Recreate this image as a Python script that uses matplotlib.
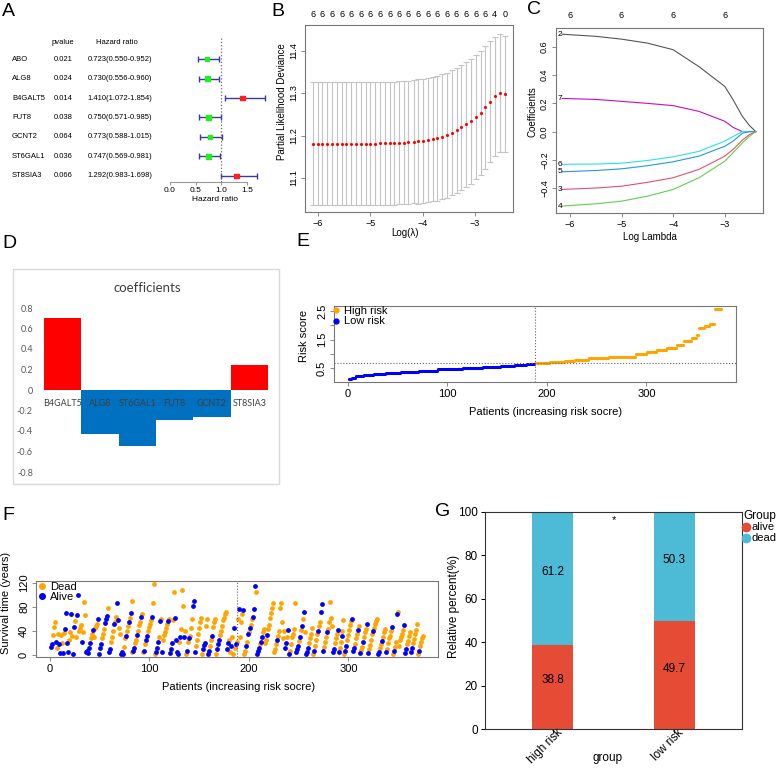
import numpy as np
import matplotlib
matplotlib.use('Agg')
import matplotlib.pyplot as plt
import matplotlib.transforms as mtransforms
from matplotlib.patches import Rectangle
from matplotlib.lines import Line2D

plt.rcParams['font.family'] = ['Liberation Sans', 'DejaVu Sans']

# ---- A: univariate cox
genes = ['ABO', 'ALG8', 'B4GALT5', 'FUT8', 'GCNT2', 'ST6GAL1', 'ST8SIA3']
pvals = ['0.021', '0.024', '0.014', '0.038', '0.064', '0.036', '0.066']
hr = [0.723, 0.730, 1.410, 0.750, 0.773, 0.747, 1.292]
hr_lo = [0.550, 0.556, 1.072, 0.571, 0.588, 0.569, 0.983]
hr_hi = [0.952, 0.960, 1.854, 0.985, 1.015, 0.981, 1.698]

# ---- B: cv.glmnet
cv_lambda = [-6.10, -6.01, -5.92, -5.82, -5.73, -5.64, -5.55, -5.46, -5.37, -5.27,
             -5.18, -5.09, -5.00, -4.91, -4.82, -4.72, -4.63, -4.54, -4.45, -4.36,
             -4.27, -4.17, -4.08, -3.99, -3.90, -3.81, -3.72, -3.62, -3.53, -3.44,
             -3.35, -3.26, -3.17, -3.07, -2.98, -2.89, -2.80, -2.71, -2.62, -2.52, -2.43]
cv_mean = [11.181, 11.181, 11.181, 11.181, 11.181, 11.181, 11.181, 11.181, 11.181, 11.181,
           11.181, 11.181, 11.181, 11.181, 11.182, 11.182, 11.182, 11.182, 11.183, 11.183,
           11.184, 11.185, 11.186, 11.187, 11.189, 11.191, 11.194, 11.197, 11.201, 11.206,
           11.212, 11.219, 11.226, 11.234, 11.243, 11.253, 11.266, 11.280, 11.292, 11.300, 11.298]
cv_sd = [0.145, 0.145, 0.145, 0.145, 0.145, 0.145, 0.145, 0.145, 0.145, 0.145,
         0.145, 0.145, 0.145, 0.145, 0.145, 0.145, 0.145, 0.145, 0.145, 0.145,
         0.145, 0.145, 0.146, 0.146, 0.146, 0.146, 0.147, 0.147, 0.147, 0.147,
         0.147, 0.147, 0.147, 0.147, 0.146, 0.145, 0.144, 0.142, 0.140, 0.138, 0.136]
cv_nz = [6] * 37 + [5, 4, 2, 0]

# ---- C: coefficient paths
path_lambda = [-6.15, -5.5, -5.0, -4.5, -4.0, -3.5, -3.0, -2.84, -2.66, -2.52, -2.4]
path_coef = {
    '2': [0.69, 0.675, 0.655, 0.627, 0.58, 0.46, 0.32, 0.226, 0.108, 0.042, 0.0],
    '7': [0.235, 0.228, 0.214, 0.200, 0.184, 0.143, 0.073, 0.03, 0.0, 0.0, 0.0],
    '6': [-0.232, -0.23, -0.224, -0.205, -0.179, -0.14, -0.068, -0.035, 0.0, 0.0, 0.0],
    '5': [-0.285, -0.276, -0.264, -0.242, -0.214, -0.174, -0.104, -0.068, -0.012, 0.0, 0.0],
    '3': [-0.41, -0.40, -0.387, -0.36, -0.327, -0.268, -0.174, -0.127, -0.061, -0.021, 0.0],
    '4': [-0.528, -0.512, -0.493, -0.458, -0.41, -0.327, -0.21, -0.15, -0.08, -0.033, 0.0],
}
path_colors = {'2': '#555555', '7': '#CD0BBC', '6': '#28E2E5', '5': '#2297E6',
               '3': '#DF536B', '4': '#61D04F'}

# ---- D: coefficients bar
coef_genes = ['B4GALT5', 'ALG8', 'ST6GAL1', 'FUT8', 'GCNT2', 'ST8SIA3']
coef_vals = [0.70, -0.43, -0.55, -0.29, -0.26, 0.24]

# ---- E: risk score (runs of equal score, sorted)
low_runs = [(0.12, 3), (0.16, 4), (0.22, 8), (0.26, 10), (0.30, 12), (0.34, 15), (0.38, 18),
            (0.42, 20), (0.46, 25), (0.50, 20), (0.54, 18), (0.58, 14), (0.62, 12), (0.66, 8)]
high_runs = [(0.69, 15), (0.71, 15), (0.76, 10), (0.80, 14), (0.86, 20), (0.89, 27), (1.00, 12),
             (1.06, 10), (1.15, 10), (1.22, 10), (1.30, 7), (1.47, 8), (1.55, 5), (1.65, 2),
             (1.92, 6), (1.98, 5), (2.05, 5), (2.58, 7)]

# ---- F: survival time and status
surv_time = [
    14, 18, 33, 46, 55, 22, 12, 35, 18, 4, 33, 20, 4, 37, 44, 70, 21, 5, 25, 38, 68, 32, 3, 46, 57,
    30, 67, 100, 40, 45, 50, 22, 38, 88, 66, 5, 8, 4, 13, 20, 28, 35, 42, 30, 45, 48, 52, 60, 3, 12,
    18, 28, 35, 43, 54, 60, 65, 78, 5, 10, 22, 30, 40, 52, 55, 63, 87, 58, 45, 35, 2, 6, 3, 14, 28,
    32, 40, 48, 55, 62, 70, 90, 5, 8, 12, 20, 26, 33, 40, 50, 55, 64, 68, 5, 8, 18, 25, 32, 40, 46,
    52, 58, 63, 86, 118, 2, 6, 12, 22, 30, 57, 60, 5, 25, 33, 38, 45, 52, 57, 60, 4, 10, 20, 58, 105,
    62, 25, 5, 3, 22, 31, 43, 108, 82, 30, 40, 3, 8, 22, 28, 32, 45, 60, 82, 90, 5, 15, 25, 35, 45,
    55, 62, 3, 10, 17, 20, 48, 60, 3, 8, 15, 25, 32, 47, 55, 60, 2, 10, 18, 26, 33, 40, 48, 58, 62,
    68, 72, 10, 20, 26, 5, 15, 30, 2, 45, 12, 18, 22, 60, 76, 30, 55, 68, 75, 2, 8, 15, 22, 35, 38,
    45, 50, 60, 64, 76, 115, 104, 3, 8, 13, 18, 22, 30, 38, 44, 20, 26, 34, 44, 50, 62, 70, 78, 86, 5,
    10, 18, 25, 32, 40, 78, 86, 55, 28, 40, 12, 20, 30, 42, 3, 8, 18, 30, 36, 44, 86, 5, 10, 16, 24,
    30, 42, 48, 60, 72, 38, 3, 6, 12, 20, 28, 36, 45, 2, 8, 16, 25, 35, 40, 48, 55, 72, 85, 8, 14,
    22, 30, 38, 44, 55, 88, 62, 48, 5, 10, 20, 28, 36, 42, 5, 12, 22, 32, 40, 58, 3, 7, 15, 26, 34,
    42, 50, 56, 60, 8, 12, 18, 28, 36, 42, 48, 4, 9, 14, 22, 30, 38, 44, 52, 4, 10, 17, 26, 35, 40,
    45, 52, 56, 60, 2, 6, 12, 18, 24, 30, 38, 44, 5, 10, 20, 28, 32, 40, 46, 2, 8, 14, 22, 68, 72,
    15, 25, 30, 36, 42, 50, 4, 10, 18, 24, 32, 38, 5, 12, 20, 27, 35, 42, 52, 3, 8, 15, 22, 28, 32,
]
surv_status = ("AADDDADDAADDADAAAADDADAAD" "DAADDDADDDAAAAADDADDDDAAA" "ADDDAAADAADDDADDAADDAAADD"
               "ADDADADDAADDADDDADDADAADD" "DDADDDAAADADADDDDDADAAADD" "AAAADADDDADDADADDDAAADDDD"
               "DDDAAADDAADDADDDDAAADDDDD" "DDAADDADDADADDADDDADDADAD" "ADDAAADAAADAADDDDADDDDDDD"
               "DDADDDDDDDAADAADDDDDDAAAD" "ADADADAAADDDDDADDDADDAAAD" "DDADDDDDAADDDAADDADDDAADD"
               "DDDAAADDDADADDADDDAADDDDA" "DDDDAADDADDDADDDDDADADDAD" "DDDDDAAADDDDAADDDDDDADDDD")

# ---- G: relative percent
risk_groups = ['high risk', 'low risk']
alive_pct = [38.8, 49.7]
dead_pct = [61.2, 50.3]

W, H = 777, 768
fig = plt.figure(figsize=(W / 100, H / 100), dpi=100)


def px_axes(x0, y0, x1, y1):
    return fig.add_axes([x0 / W, 1 - y1 / H, (x1 - x0) / W, (y1 - y0) / H])


def ftext(x, y, s, **kw):
    return fig.text(x / W, 1 - y / H, s, **kw)


def rbase(ax, fs):
    for s in ax.spines.values():
        s.set_color('#777777')
        s.set_linewidth(0.8)
    ax.tick_params(length=3, width=0.6, color='#777777', labelsize=fs, pad=2)
    plt.setp(ax.get_yticklabels(), rotation=90, va='center')


for lab, x, y in [('A', 8, 11), ('B', 278, 11), ('C', 534, 10), ('D', 9, 243),
                  ('E', 303, 242), ('F', 8, 515), ('G', 443, 512)]:
    ftext(x, y, lab, fontsize=14, ha='center', va='center')

# ================= A
axa = px_axes(170, 30, 290, 182)
rows = np.arange(len(genes))
hr_a = np.array(hr)
cols = ['#ff2020' if v > 1 else '#22ee22' for v in hr]
axa.errorbar(hr_a, rows, xerr=[hr_a - np.array(hr_lo), np.array(hr_hi) - hr_a], fmt='none',
             ecolor='#3a3aa0', elinewidth=1, capsize=2, capthick=1)
axa.scatter(hr_a, rows, marker='s', s=10, c=cols, zorder=3)
axa.plot([1, 1], [-1.1, 6.31], ls=':', color='#666666', lw=0.9)
axa.set_xlim(0, 2.335)
axa.set_ylim(6.31, -1.49)
for s in ['top', 'right', 'left']:
    axa.spines[s].set_visible(False)
axa.spines['bottom'].set_bounds(0, 1.5)
axa.spines['bottom'].set_color('#999999')
axa.set_yticks([])
axa.set_xticks([0, 0.5, 1.0, 1.5])
axa.set_xticklabels(['0.0', '0.5', '1.0', '1.5'])
axa.tick_params(axis='x', length=2, color='#999999', labelsize=6, pad=1.5)
axa.set_xlabel('Hazard ratio', fontsize=6)
axa.xaxis.set_label_coords(0.375, -0.095)
axa.patch.set_visible(False)
tr = mtransforms.blended_transform_factory(fig.transFigure, axa.transData)
axa.text(63 / W, -0.87, 'pvalue', transform=tr, fontsize=5.5, ha='center', va='center')
axa.text(117 / W, -0.87, 'Hazard ratio', transform=tr, fontsize=5.5, ha='center', va='center')
for i, g in enumerate(genes):
    axa.text(12 / W, i, g, transform=tr, fontsize=5.5, ha='left', va='center')
    axa.text(63 / W, i, pvals[i], transform=tr, fontsize=5.5, ha='center', va='center')
    axa.text(120 / W, i, '%.3f(%.3f-%.3f)' % (hr[i], hr_lo[i], hr_hi[i]), transform=tr,
             fontsize=5.5, ha='center', va='center')

# ================= B
axb = px_axes(305, 25, 513, 212)
axb.errorbar(cv_lambda, cv_mean, yerr=cv_sd, fmt='none', ecolor='#c4c4c4', elinewidth=0.8,
             capsize=2, capthick=0.8)
axb.scatter(cv_lambda, cv_mean, s=5, color='red', zorder=3, linewidths=0)
axb.set_xlim(-6.25, -2.27)
axb.set_ylim(11.02, 11.46)
axb.set_xticks([-6, -5, -4, -3])
axb.set_yticks([11.1, 11.2, 11.3, 11.4])
rbase(axb, 6.5)
axb.set_xlabel('Log(\u03bb)', fontsize=7)
axb.set_ylabel('Partial Likelihood Deviance', fontsize=7)
axb.xaxis.set_label_coords(0.48, -0.085)
axb.yaxis.set_label_coords(-0.085, 0.59)
top_b = mtransforms.blended_transform_factory(axb.transData, axb.transAxes)
for lam, k in zip(cv_lambda[::2], cv_nz[::2]):
    axb.text(lam, 1.058, str(k), transform=top_b, ha='center', va='center', fontsize=6.5)

# ================= C
axc = px_axes(556, 28, 763, 213)
for name, vals in path_coef.items():
    axc.plot(path_lambda, vals, color=path_colors[name], lw=0.8)
    axc.text(path_lambda[0], vals[0], name, ha='right', va='center', fontsize=6)
axc.set_xlim(-6.27, -2.26)
axc.set_ylim(-0.577, 0.734)
axc.set_xticks([-6, -5, -4, -3])
axc.set_yticks([-0.4, -0.2, 0.0, 0.2, 0.4, 0.6])
axc.set_yticklabels(['\u22120.4', '\u22120.2', '0.0', '0.2', '0.4', '0.6'])
rbase(axc, 6.5)
axc.set_xlabel('Log Lambda', fontsize=7)
axc.set_ylabel('Coefficients', fontsize=7)
axc.xaxis.set_label_coords(0.454, -0.105)
axc.yaxis.set_label_coords(-0.09, 0.546)
top_c = mtransforms.blended_transform_factory(axc.transData, axc.transAxes)
for lam in [-6, -5, -4, -3]:
    axc.text(lam, 1.065, '6', transform=top_c, ha='center', va='center', fontsize=6.5)

# ================= D
fig.patches.append(Rectangle((13 / W, 1 - 484 / H), 266 / W, 215 / H, transform=fig.transFigure,
                             fill=False, edgecolor='#d9d9d9', lw=1))
axd = px_axes(44, 308, 268, 472)
xd = np.arange(len(coef_genes))
axd.bar(xd, coef_vals, width=1.0, color=['#ff0000' if v > 0 else '#0070c0' for v in coef_vals])
axd.set_xlim(-0.5, len(coef_genes) - 0.5)
axd.set_ylim(-0.8, 0.8)
for s in axd.spines.values():
    s.set_visible(False)
axd.set_xticks([])
yt = [0.8, 0.6, 0.4, 0.2, 0, -0.2, -0.4, -0.6, -0.8]
axd.set_yticks(yt)
axd.set_yticklabels(['%g' % v for v in yt], fontfamily='Lato')
axd.tick_params(axis='y', length=0, labelsize=6.5, labelcolor='#595959', pad=8)
off = mtransforms.offset_copy(axd.transData, fig=fig, y=-14, units='dots')
for i, g in enumerate(coef_genes):
    axd.text(i, 0, g, transform=off, ha='center', va='center', fontsize=6.5,
             fontfamily='Lato', color='#404040')
ftext(147, 288, 'coefficients', fontsize=9.5, ha='center', va='center', fontfamily='Lato',
      color='#404040')

# ================= E
risk_low = np.repeat([v for v, n in low_runs], [n for v, n in low_runs])
risk_high = np.repeat([v for v, n in high_runs], [n for v, n in high_runs])
n_low = len(risk_low)
risk = np.concatenate([risk_low, risk_high])
pat = np.arange(1, len(risk) + 1)
axe = px_axes(334, 306, 736, 382)
axe.scatter(pat[n_low:], risk_high, s=5, color='orange', linewidths=0, label='High risk')
axe.scatter(pat[:n_low], risk_low, s=5, color='blue', linewidths=0, label='Low risk')
cut = np.median(risk)
axe.axvline(n_low + 0.5, ls=':', color='#666666', lw=0.8)
axe.axhline(cut, ls=':', color='#666666', lw=0.8)
pad = 0.04 * (pat[-1] - 1)
axe.set_xlim(1 - pad, pat[-1] + pad)
ypad = 0.04 * (risk.max() - risk.min())
axe.set_ylim(risk.min() - ypad, risk.max() + ypad)
axe.set_xticks([0, 100, 200, 300])
axe.set_yticks([0.5, 1.0, 1.5, 2.0, 2.5])
axe.set_yticklabels(['0.5', '', '1.5', '', '2.5'])
rbase(axe, 8)
axe.set_xlabel('Patients (increasing risk socre)', fontsize=8)
axe.set_ylabel('Risk score', fontsize=8)
axe.xaxis.set_label_coords(0.527, -0.33)
axe.yaxis.set_label_coords(-0.062, 0.6)
handles = [Line2D([], [], marker='o', ls='', color='orange', ms=3.5),
           Line2D([], [], marker='o', ls='', color='blue', ms=3.5)]
axe.legend(handles, ['High risk', 'Low risk'], loc='upper left', bbox_to_anchor=(-0.01, 1.03),
           frameon=False, fontsize=8, handlelength=0.6, handletextpad=0.5, borderpad=0.2,
           labelspacing=0.05, borderaxespad=0)

# ================= F
st = np.array(list(surv_status))
tm = np.array(surv_time)
axf = px_axes(36, 581, 438, 657)
dead = st == 'D'
axf.scatter(pat[dead], tm[dead], s=12, color='orange', linewidths=0, zorder=2)
axf.scatter(pat[~dead], tm[~dead], s=12, color='blue', linewidths=0, zorder=2)
axf.axvline(n_low + 0.5, ls=':', color='#666666', lw=0.8)
axf.set_xlim(1 - pad, pat[-1] + pad)
tpad = 0.04 * (tm.max() - tm.min())
axf.set_ylim(tm.min() - tpad, tm.max() + tpad)
axf.set_xticks([0, 100, 200, 300])
axf.set_yticks([0, 40, 80, 120])
rbase(axf, 8)
axf.set_xlabel('Patients (increasing risk socre)', fontsize=8)
axf.set_ylabel('Survival time (years)', fontsize=8)
axf.xaxis.set_label_coords(0.505, -0.33)
axf.yaxis.set_label_coords(-0.062, 0.71)
handles = [Line2D([], [], marker='o', ls='', color='orange', ms=4),
           Line2D([], [], marker='o', ls='', color='blue', ms=4)]
axf.legend(handles, ['Dead', 'Alive'], loc='upper left', bbox_to_anchor=(0.0, 1.02),
           frameon=False, fontsize=8, handlelength=0.6, handletextpad=0.5, borderpad=0.2,
           labelspacing=0.05, borderaxespad=0)

# ================= G
axg = px_axes(485, 512, 742, 729)
xg = np.arange(1, len(risk_groups) + 1)
axg.bar(xg, alive_pct, width=0.34, color='#E64B35')
axg.bar(xg, dead_pct, width=0.34, bottom=alive_pct, color='#4DBBD5')
for i in range(len(xg)):
    axg.text(xg[i], alive_pct[i] / 2 + 3, '%.1f' % alive_pct[i], ha='center', va='center',
             fontsize=8.5)
    axg.text(xg[i], alive_pct[i] + dead_pct[i] / 2 + 3, '%.1f' % dead_pct[i], ha='center',
             va='center', fontsize=8.5)
axg.set_xlim(0.44, 2.56)
axg.set_ylim(0, 100)
axg.set_xticks(xg)
axg.set_xticklabels(risk_groups, rotation=45, ha='right', va='center', rotation_mode='anchor',
                    fontsize=8)
axg.set_yticks([0, 20, 40, 60, 80, 100])
for s in axg.spines.values():
    s.set_color('#333333')
    s.set_linewidth(0.8)
axg.tick_params(length=3, width=0.7, labelsize=8.5, pad=2)
axg.tick_params(axis='x', pad=0)
shift = mtransforms.ScaledTranslation(8 / 100, 2 / 100, fig.dpi_scale_trans)
for t in axg.get_xticklabels():
    t.set_transform(t.get_transform() + shift)
axg.set_xlabel('group', fontsize=8.5)
axg.set_ylabel('Relative percent(%)', fontsize=8.5)
axg.xaxis.set_label_coords(0.475, -0.105)
axg.yaxis.set_label_coords(-0.097, 0.567)
axg.text(1.5, 96.5, '*', ha='center', va='center', fontsize=8)
ftext(743, 516, 'Group', fontsize=8.5, ha='left', va='center')
for yy, lab, col in [(527, 'alive', '#E64B35'), (538, 'dead', '#4DBBD5')]:
    fig.lines.append(Line2D([746 / W], [1 - yy / H], marker='o', ms=6, color=col,
                            transform=fig.transFigure))
    ftext(751, yy, lab, fontsize=8, ha='left', va='center')

fig.savefig('out.png', dpi=100)
